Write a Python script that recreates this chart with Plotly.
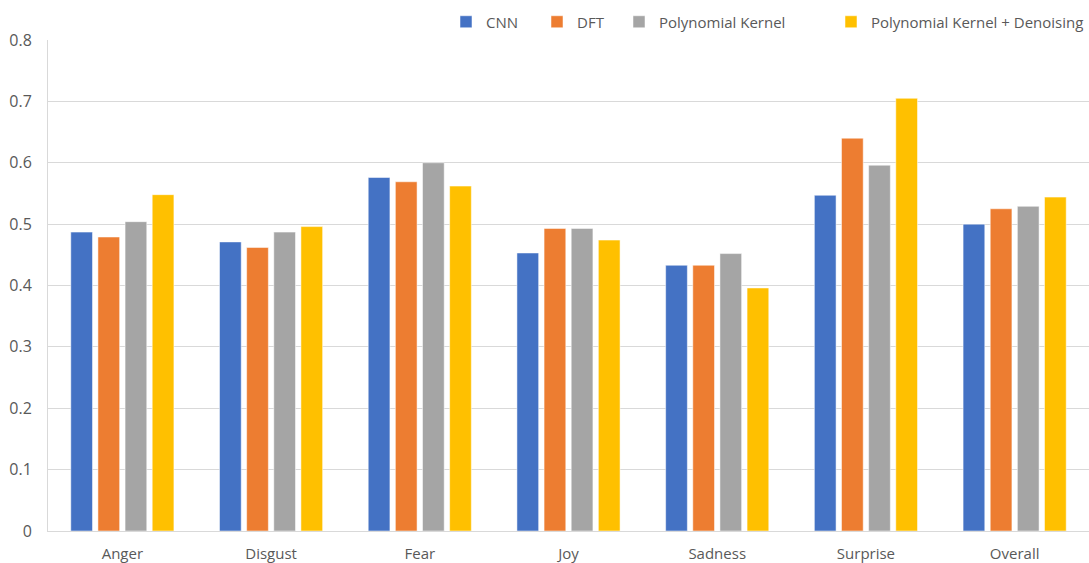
import plotly.graph_objects as go

categories = ["Anger", "Disgust", "Fear", "Joy", "Sadness", "Surprise", "Overall"]
cnn = [0.487, 0.471, 0.576, 0.453, 0.433, 0.547, 0.500]
dft = [0.479, 0.462, 0.569, 0.493, 0.433, 0.640, 0.525]
poly_kernel = [0.504, 0.487, 0.600, 0.493, 0.452, 0.596, 0.529]
poly_denoise = [0.548, 0.496, 0.562, 0.474, 0.396, 0.705, 0.544]

series = [
    ("CNN", cnn, "#4472C4"),
    ("DFT", dft, "#ED7D31"),
    ("Polynomial Kernel", poly_kernel, "#A5A5A5"),
    ("Polynomial Kernel + Denoising", poly_denoise, "#FFC000"),
]

# left edge (in pixels of the 1089px canvas) of each legend entry
legend_left_px = [446, 537, 619, 831]

W, H = 1089, 563
font_family = "Open Sans, Noto Sans, sans-serif"
text_color = "#595959"
grid_color = "#D9D9D9"

fig = go.Figure()
layout_legends = {}
for i, (name, values, color) in enumerate(series):
    key = "legend" if i == 0 else f"legend{i + 1}"
    fig.add_trace(go.Bar(
        name=name,
        x=categories,
        y=values,
        legend=key,
        showlegend=True,
        marker=dict(color=color, line=dict(color="rgba(255,255,255,0.5)", width=1)),
    ))
    layout_legends[key] = dict(
        orientation="h",
        xref="container",
        yref="container",
        x=legend_left_px[i] / W,
        xanchor="left",
        y=1 - 22 / H,
        yanchor="middle",
        font=dict(size=15, color=text_color),
        itemwidth=30,
        bgcolor="rgba(0,0,0,0)",
    )

fig.update_layout(
    width=W,
    height=H,
    showlegend=True,
    margin=dict(l=48, r=0, t=40, b=32, autoexpand=False),
    paper_bgcolor="white",
    plot_bgcolor="white",
    barmode="group",
    bargap=0.27,
    bargroupgap=0.2,
    font=dict(family=font_family, color=text_color, size=14),
    xaxis=dict(
        showgrid=False,
        showline=True,
        linecolor=grid_color,
        linewidth=1,
        ticks="",
        ticklabelstandoff=9,
        tickfont=dict(size=15, color=text_color),
    ),
    yaxis=dict(
        range=[0, 0.8],
        dtick=0.1,
        showgrid=True,
        gridcolor=grid_color,
        gridwidth=1,
        showline=True,
        linecolor=grid_color,
        zeroline=False,
        ticks="",
        ticklabelstandoff=12,
        tickfont=dict(size=16, color=text_color),
    ),
    **layout_legends,
)

fig.write_html("out.html")
